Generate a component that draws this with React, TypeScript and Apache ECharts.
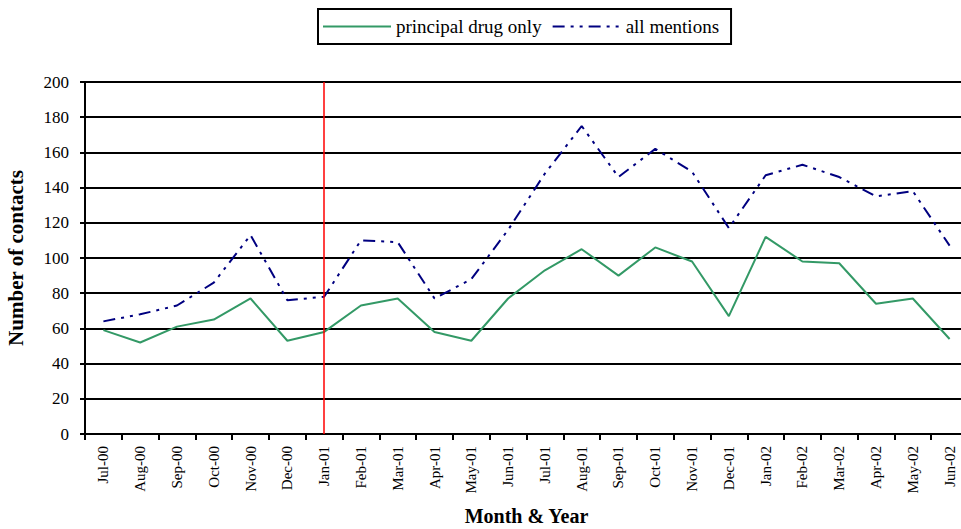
import React, { useEffect, useRef } from "react";
import * as echarts from "echarts";

const months = [
  "Jul-00", "Aug-00", "Sep-00", "Oct-00", "Nov-00", "Dec-00",
  "Jan-01", "Feb-01", "Mar-01", "Apr-01", "May-01", "Jun-01",
  "Jul-01", "Aug-01", "Sep-01", "Oct-01", "Nov-01", "Dec-01",
  "Jan-02", "Feb-02", "Mar-02", "Apr-02", "May-02", "Jun-02",
];

const principalDrugOnly = [
  59, 52, 61, 65, 77, 53, 58, 73, 77, 58, 53, 77,
  93, 105, 90, 106, 98, 67, 112, 98, 97, 74, 77, 54,
];

const allMentions = [
  64, 68, 73, 86, 113, 76, 78, 110, 109, 77, 88, 116,
  148, 175, 146, 162, 149, 117, 147, 153, 146, 135, 138, 107,
];

const markerMonth = "Jan-01";

const FONT = "'Liberation Serif', 'DejaVu Serif', serif";

export default function App() {
  const ref = useRef<HTMLDivElement>(null);

  useEffect(() => {
    if (!ref.current) return;
    const chart = echarts.init(ref.current, null, { renderer: "svg" });
    chart.setOption({
      animation: false,
      backgroundColor: "#ffffff",
      textStyle: { fontFamily: FONT, color: "#000" },
      legend: {
        left: 318,
        top: 9,
        padding: [8, 12, 8, 4],
        itemWidth: 68,
        itemHeight: 12,
        itemGap: 10,
        borderColor: "#000",
        borderWidth: 2,
        itemStyle: { opacity: 0 },
        textStyle: { fontFamily: FONT, fontSize: 19, color: "#000" },
        data: ["principal drug only", "all mentions"],
      },
      grid: {
        left: 85,
        top: 82,
        width: 883,
        height: 352,
        containLabel: false,
        outerBoundsMode: "none",
      },
      xAxis: {
        type: "category",
        data: months,
        boundaryGap: true,
        name: "Month & Year",
        nameLocation: "middle",
        nameGap: 72,
        nameTextStyle: { fontFamily: FONT, fontSize: 20, fontWeight: "bold", color: "#000" },
        axisLine: { lineStyle: { color: "#000", width: 2 } },
        axisTick: { show: true, alignWithLabel: false, length: 6, lineStyle: { color: "#000", width: 2 } },
        axisLabel: { rotate: 90, fontFamily: FONT, fontSize: 15, color: "#000", margin: 12, interval: 0 },
        splitLine: { show: false },
      },
      yAxis: {
        type: "value",
        min: 0,
        max: 200,
        interval: 20,
        name: "Number of contacts",
        nameLocation: "middle",
        nameGap: 59,
        nameTextStyle: { fontFamily: FONT, fontSize: 21, fontWeight: "bold", color: "#000" },
        axisLine: { show: true, lineStyle: { color: "#000", width: 2 } },
        axisTick: { show: true, length: 5, lineStyle: { color: "#000", width: 2 } },
        axisLabel: { fontFamily: FONT, fontSize: 17, color: "#000", margin: 16 },
        splitLine: { show: true, lineStyle: { color: "#000", width: 2 } },
      },
      series: [
        {
          name: "principal drug only",
          type: "line",
          data: principalDrugOnly,
          symbol: "none",
          lineStyle: { color: "#339966", width: 2 },
          itemStyle: { color: "#339966" },
          markLine: {
            silent: true,
            symbol: "none",
            label: { show: false },
            lineStyle: { color: "#ff0000", width: 1.5, type: "solid" },
            data: [{ xAxis: markerMonth }],
          },
        },
        {
          name: "all mentions",
          type: "line",
          data: allMentions,
          symbol: "none",
          lineStyle: { color: "#000080", width: 2, type: [12, 6, 3, 6, 3, 6] },
          itemStyle: { color: "#000080" },
        },
      ],
    });
    return () => chart.dispose();
  }, []);

  return (
    <div
      ref={ref}
      style={{ position: "fixed", left: 0, top: 0, width: 961, height: 529 }}
    />
  );
}
